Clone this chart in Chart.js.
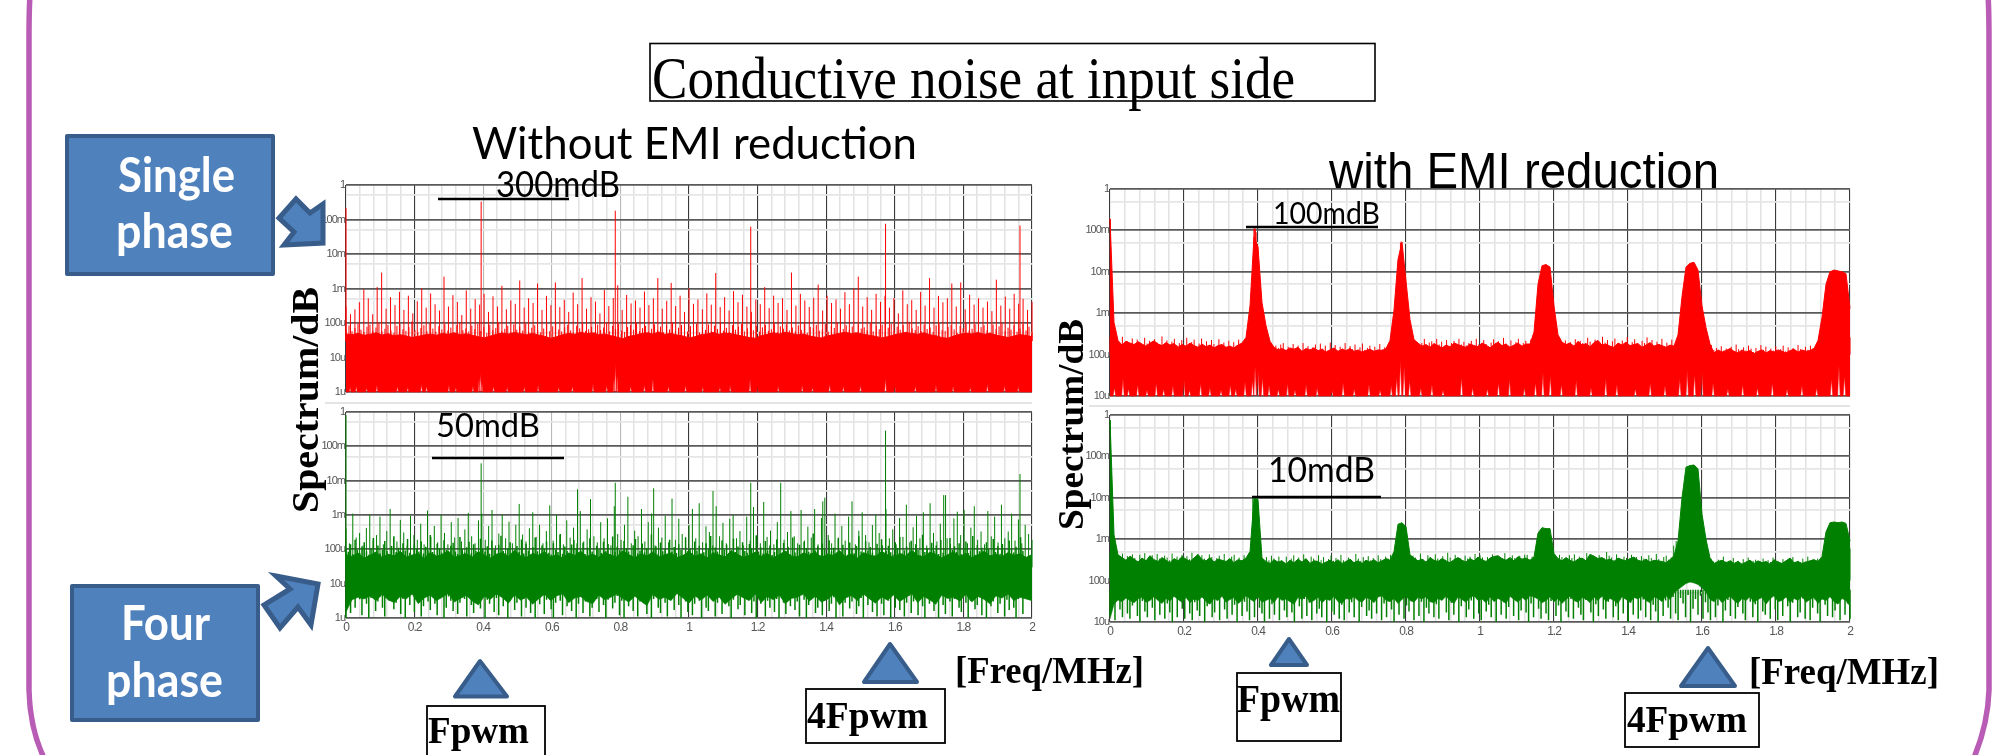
<!DOCTYPE html>
<html><head><meta charset="utf-8">
<script src="https://cdn.jsdelivr.net/npm/chart.js@4"></script>
<style>
html,body{margin:0;padding:0;background:#fff;width:2003px;height:755px;overflow:hidden}
#stage{position:relative;width:2003px;height:755px;background:#fff;filter:blur(.55px)}
canvas{position:absolute}
svg{position:absolute;left:0;top:0}
.ser{font-family:"Liberation Serif",serif;fill:#000}
.serb{font-family:"Liberation Serif",serif;font-weight:700;fill:#000}
.cal{font-family:Lato,sans-serif;fill:#000}
.wht{font-family:Lato,sans-serif;font-weight:700;fill:#fff}
.ari{font-family:"Liberation Sans",sans-serif;fill:#000}
</style></head><body>
<div id="stage">
<canvas id="lt"></canvas><canvas id="lb"></canvas><canvas id="rt"></canvas><canvas id="rb"></canvas>
<svg width="2003" height="755" viewBox="0 0 2003 755">
<path d="M30,-5 Q29,10 29,40 V690 Q30,730 45,760" fill="none" stroke="#b85cb5" stroke-width="5.5"/>
<path d="M1988,-5 Q1989,10 1989,40 V690 Q1988,725 1973,760" fill="none" stroke="#b85cb5" stroke-width="5.5"/>
<rect x="650" y="43.5" width="725" height="57.5" fill="none" stroke="#000" stroke-width="1.6"/>
<text class="ser" x="652" y="98" font-size="59" textLength="643" lengthAdjust="spacingAndGlyphs">Conductive noise at input side</text>
<text class="cal" x="472" y="159" font-size="45" textLength="445" lengthAdjust="spacingAndGlyphs">Without EMI reduction</text>
<text class="ari" x="1329" y="188" font-size="50" textLength="390" lengthAdjust="spacingAndGlyphs">with EMI reduction</text>
<line x1="325" x2="1032" y1="403" y2="403" stroke="#e4e4e4" stroke-width="2"/>
<line x1="1089" x2="1850" y1="406" y2="406" stroke="#e4e4e4" stroke-width="2"/>
<line x1="438" x2="569" y1="199" y2="199" stroke="#000" stroke-width="2.6"/>
<text class="cal" x="496" y="197" font-size="36" textLength="124" lengthAdjust="spacingAndGlyphs">300mdB</text>
<line x1="432" x2="564" y1="458" y2="458" stroke="#000" stroke-width="2.6"/>
<text class="cal" x="436" y="437" font-size="33" textLength="104" lengthAdjust="spacingAndGlyphs">50mdB</text>
<line x1="1246" x2="1378" y1="227" y2="227" stroke="#000" stroke-width="2.6"/>
<text class="cal" x="1273" y="224" font-size="31" textLength="107" lengthAdjust="spacingAndGlyphs">100mdB</text>
<line x1="1252" x2="1381" y1="497" y2="497" stroke="#000" stroke-width="2.6"/>
<text class="cal" x="1268" y="482" font-size="34" textLength="107" lengthAdjust="spacingAndGlyphs">10mdB</text>
<text class="serb" transform="translate(318,513) rotate(-90)" font-size="38" textLength="226" lengthAdjust="spacingAndGlyphs">Spectrum/dB</text>
<text class="serb" transform="translate(1083,530) rotate(-90)" font-size="36" textLength="211" lengthAdjust="spacingAndGlyphs">Spectrum/dB</text>
<g fill="#4f81bd" stroke="#385d8a" stroke-width="4" stroke-linejoin="round">
<rect x="67" y="136" width="206" height="138"/>
<rect x="72" y="586" width="186" height="134"/>
<polygon points="296,199 279,218 294,232 284,245 323,243 323,204 310,213" stroke-linejoin="miter" stroke-width="5"/>
<polygon points="276,576 318,584 311,625 298,607 280,628 264,605 290,589" stroke-linejoin="miter" stroke-width="5"/>
<polygon points="480,661 455,696.5 507,696.5"/>
<polygon points="890,644 864,682 917,682"/>
<polygon points="1289,639 1271,665 1307,665"/>
<polygon points="1708,648 1681,686 1735,686"/>
</g>
<text class="wht" x="118" y="192" font-size="47" textLength="117" lengthAdjust="spacingAndGlyphs">Single</text>
<text class="wht" x="116" y="248" font-size="47" textLength="117" lengthAdjust="spacingAndGlyphs">phase</text>
<text class="wht" x="121" y="640" font-size="47" textLength="89" lengthAdjust="spacingAndGlyphs">Four</text>
<text class="wht" x="106" y="697" font-size="47" textLength="117" lengthAdjust="spacingAndGlyphs">phase</text>
<g fill="#fff" stroke="#000" stroke-width="1.8">
<rect x="427" y="706" width="118" height="60"/>
<rect x="806" y="689" width="139" height="54"/>
<rect x="1237" y="673" width="104" height="68"/>
<rect x="1625" y="693" width="134" height="54"/>
</g>
<text class="serb" x="428" y="743" font-size="37" textLength="101" lengthAdjust="spacingAndGlyphs">Fpwm</text>
<text class="serb" x="807" y="728" font-size="37" textLength="121" lengthAdjust="spacingAndGlyphs">4Fpwm</text>
<text class="serb" x="1237" y="712" font-size="39" textLength="103" lengthAdjust="spacingAndGlyphs">Fpwm</text>
<text class="serb" x="1627" y="732" font-size="37" textLength="120" lengthAdjust="spacingAndGlyphs">4Fpwm</text>
<text class="serb" x="955" y="683" font-size="37" textLength="189" lengthAdjust="spacingAndGlyphs">[Freq/MHz]</text>
<text class="serb" x="1749" y="684" font-size="37" textLength="190" lengthAdjust="spacingAndGlyphs">[Freq/MHz]</text>
</svg>
</div>
<script>
// ---- axes (spectrum values are in micro-units; 1 = 1u, 1e6 = 1) ----
const freqTicks = [0,.04,.08,.12,.16,.2,.24,.28,.32,.36,.4,.44,.48,.52,.56,.6,.64,.68,.72,.76,.8,.84,.88,.92,.96,1,1.04,1.08,1.12,1.16,1.2,1.24,1.28,1.32,1.36,1.4,1.44,1.48,1.52,1.56,1.6,1.64,1.68,1.72,1.76,1.8,1.84,1.88,1.92,1.96,2];
const freqLabels = {0:'0',0.2:'0.2',0.4:'0.4',0.6:'0.6',0.8:'0.8',1:'1',1.2:'1.2',1.4:'1.4',1.6:'1.6',1.8:'1.8',2:'2'};
const levelTicks = [1,5,10,50,100,500,1000,5000,10000,50000,100000,500000,1000000];
const levelLabels = {1:'1u',10:'10u',100:'100u',1000:'1m',10000:'10m',100000:'100m',1000000:'1'};

// ---- top left: single phase, without reduction ----
const ltBandHigh = [48,46,50,44,47,52,45,49,43,46,42,38,41,45,48,44,50,47,52,46,49,44,40,37,42,47,51,48,53,49,46,50,45,41,36,40,46,50,47,54,49,52,46,48,43,39,35,41,44,49,52,48,55,47,50,45,42,37,40,46,48,53,47,51,49,45,41,38,36,43,47,52,48,54,50,46,48,42,39,37,42,46,50,54,49,52,47,44,41,37,40,45,49,53,50,47,52,46,43,38,36,42,47,51,48,53,47,50,45,41,38,42,46,44,40];
const ltFuzz = [62,85,58,71,96,64,55,78,90,60,74,103,57,68,88,61,52,82,94,66,59,76,110,63,54,72,86,58,98,69,56,81,65,92,60,74,53,87,101,62,70,57,84,66,95,59,77,51,89,63,72,105,58,68,83,55,91,64,79,60,97,56,73,86,62,54,69,93,58,80,107,65,57,75,88,61,52,84,70,96,59,66,78,53,90,63,74,102,57,82,67,94,60,55,76,87,64,99,58,71,83,56,68,92,62,79,54,86,65,104,59,73,88,61,57,81,69,95,53,76,63,90,58,84,67,100,60,72,55,87,64,78,93,57,70,106,62,83,56,75,89,59,66,97,54,80,68,91,61,74,57,85,63,98,52,77,70,88,60,65,94,56,82,72,103,58,67,86,63,79,54,92,69,75,61,99,57,84,66,89,53,73,95,60,78,64,87,56,108,70,62,81,58,91,67,74,55,85,96,63,59,77,88,65,52,83,71,100,60,68,92,57,76,86,62,54,90,66,80,97,58,73,64,87,56,69,93,61,78,55];
const ltNotchF = [.012,.03,.06,.09,.15,.18,.22,.235,.3,.32,.37,.388,.392,.396,.43,.47,.52,.56,.62,.66,.72,.76,.782,.786,.79,.83,.87,.895,.94,.99,1.04,1.09,1.12,1.178,1.2,1.26,1.33,1.36,1.41,1.45,1.5,1.573,1.6,1.66,1.72,1.77,1.82,1.87,1.92,1.96];
const ltNotchV = [1.4,1.5,1.3,1.6,1.5,1.4,1.7,1.5,1.6,1.4,1.5,2.5,3.5,2,1.5,1.4,1.5,1.6,1.4,1.5,1.7,1.6,3,7,3,1.5,1.6,2.4,1.5,1.6,1.5,1.4,1.6,2.4,1.5,1.5,1.6,1.4,1.7,1.5,1.6,2.6,1.6,1.5,1.6,1.5,1.4,1.7,1.6,1.5];
const ltSpikeHigh = [300,180,250,400,950,520,180,1100,2900,260,560,330,800,240,620,190,430,1000,280,720,350,230,2200,300,640,410,170,880,260,490,340,700,210,590,300,1200,250,450,360,1700,280,520,380,1400,240,610,330,1500,290,470,210,760,350,2000,260,560,420,190,900,310,530,1250,240,650,370,450,280,820,330,520,2000,260,440,1450,310,620,210,1000,360,480,250,720,340,2800,290,560,230,840,400,660,300,210,480,350,1100,270,620,380,520,240,2900,320,700,450,290,540,1300,230,620,380,480,260,780,350,1000,2200,300,560,240,700,410,620,280,530,190,880,350,460,240,800,320,2000,280,610,400,520,1400,300,1500,250,660,340,520,280,420,220,1800,320,580,260,700,360,500,240,410];
const ltPeakF = [0,.394,.785,1.18,1.573,1.965];
const ltPeakV = [215000,330000,180000,62000,75000,67000];

// ---- bottom left: four phase, without reduction ----
const lbBandHigh = [70,62,78,55,66,84,58,72,64,88,60,68,76,54,82,63,70,90,58,66,74,60,86,68,56,72,80,62,94,65,58,76,68,84,60,70,56,78,66,88,62,72,58,82,68,60,92,70,56,74,64,84,60,70,78,58,66,86,62,74,56,80,68,60,90,72,58,66,82,62,76,56,70,88,64,60,78,68,84,58,72,66,92,60,74,56,80,68,62,86,70,58,76,64,94,66,60,82,72,56,70,84,62,76,58,68,90,64,72,60,80,66,74,58,70];
const lbBandLow = [1.5,3.4,4,3.6,4.4,3.2,4.8,3.4,2.8,4.2,3.6,5,2.6,3.8,4.6,3.2,4,5.2,2.9,3.7,4.5,3.1,2.4,4.3,3.5,5,3.9,2.7,4.7,3.3,4.1,2.5,3.6,4.9,3.2,4.4,5.1,2.8,3.8,4.2,3,2.6,4.6,3.4,4,5,3.7,2.9,4.3,3.1,2.3,4.8,3.5,4,3.2,5.2,3.8,2.7,4.4,3.3,4.7,3,4.1,2.5,3.6,4.9,3.9,3.2,5,2.8,4.2,3.4,4.6,2.6,3.7,4,5.1,3.1,4.3,2.9,3.5,4.8,2.4,3.8,4.5,3.2,5,3.6,2.7,4.1,3.3,4.7,3,3.9,5.2,2.8,4.2,3.4,2.5,4.6,3.7,4,3.1,4.9,2.9,4.3,3.5,2.6,4.4,3.8,5,3.2,4,3.6,3.2];
const lbSpikeHigh = [400,150,1100,220,300,130,420,1000,180,260,900,140,340,1500,210,170,720,310,130,950,260,190,560,140,1350,230,480,160,1000,300,140,620,220,820,170,380,1150,240,150,700,1100,190,480,1400,130,290,1000,210,640,150,520,2100,270,170,410,1200,230,520,150,340,1900,180,1000,260,140,700,220,430,150,1300,170,380,2900,240,160,620,210,800,130,1800,280,190,520,3400,150,350,240,1500,170,620,1100,130,430,220,950,160,3000,190,780,280,140,520,1500,210,2200,160,470,320,130,1800,240,590,150,780,1000,210,340,130,900,180,1700,260,150,2400,230,350,140,620,8700,190,320,1300,240,150,1400,180,460,220,1500,140,820,3200,260,150,1100,220,480,180,900,2500,140,350,1200,260,160,510,1000,300,130,1500,210,380,140,820,230,2000,160,440,950,210,1200,130,2200,300,170,560,3800,210,140,800,1250,260,1400,150,430,1800,190,330,140,1300,240,900,160,2000,210,330,1100,180,740,150,520,280,190];
const lbFuzzHigh = [110,85,140,72,190,95,78,120,160,88,70,105,215,82,130,76,98,175,90,68,125,240,84,112,74,150,92,200,80,66,135,102,86,170,75,118,94,260,83,71,145,108,79,185,96,69,128,155,87,73,230,100,81,115,165,77,140,91,68,205,104,85,122,74,180,96,72,135,250,89,78,110,160,70,98,125,83,195,76,145,93,67,115,220,88,75,130,102,170,80,71,150,97,84,280,74,120,90,68,138,186,106,79,94,155,72,112,210,86,69,128,100,78,165,91,144,73,235,83,118,96,70,175,104,87,66,132,200,76,92,148,81,110,68,270,95,124,74,158,88,102,71,190,85,116,78,140,96,67,225,89,108,75,168,92,128,70,82,150,100,245,77,113,86,69,180,97,135,73,94,205,84,120,66,160,90,79,142,105,72,255,87,115,76,175,93,130,68,83,195,101,74,152,89,118,71,220,81,96,137,70,165,107,85,78,290,92,124,67,148,99,75,185,88,112,73,210,83,135,95,69,158,104,77,126,240,86,72,172,93,116,80,66,145,100,198,74,90,128,82,69,160,108,230,76,94,120,71,178,87,140,98,67,265,84,110,75,155,91,130,73,188,79,102,68,215,96,122,85,150,72,106,170,78,93,246,70,134,88,112,76,162,99,66,200,83,126,74,144,95,69,182,107,81,118,72,224,90,138,77,104,156];
const lbFuzzLow = [1,3,1.4,4,2,5,3.5,1.2,4.5,2.6,1,3.8,5,1.6,3,4.2,2,1.1,4,3.2,5,1.8,2.8,4.6,1.3,3.6,1,4.4,2.4,5,1.5,3.4,4,1.1,2.2,4.8,3,1.7,5,2.6,1.2,3.8,4.4,1,2,4.2,3.2,1.6,5,1.3,2.8,4,3.6,1.1,4.6,2.4,1.4,5,3,1.9,4.2,1,3.4,2.6,4.8,1.5,3.8,1.2,5,2.2,4,1,3.2,4.4,1.7,2.8,5,1.1,3.6,2,4.6,1.4,3,1,4.2,2.5,5,1.3,3.4,4,1.8,1,2.8,4.8,3.2,1.2,4.4,2.2,5,1.6,3.8,1,2.6,4.2,1.4,3,5,1.1,2,4,3.6,1.5,4.6,2.4,1,3.4,5,1.9,2.8,4.4,1.2,3.2,1,4.8,2.2,3.8,1.6,5,1.1,3,4.2,2.6,1.3,4,1,3.6,5,2,1.4,4.6,2.8,1.1,3.4,4.4,1.7,5,2.4,1,3.8,3,1.5,4.2,1.2,2.6,5,3.2,1,4,2,1.6,4.8,3.6,1.1,2.8,4.4,1.3,3,5,2.2,1,3.4,4.6,1.8,2.4,4,1.2,5,3.8,1.4,3,1,4.2,2.6,5,1.1,3.2,2,4.8,1.5,3.6,1,4.4,2.8,1.3,5,2.2,4,1.7,3,1.1,4.6,3.4,1,2.4,5,3.8,1.4,2,4.2,1.2,3.2,5,1.6,2.6,4,1,3.6,4.8,1.1,2.8,5,1.9,3,4.4,1.3,2.2,3.8,1,4.6,2.4,5,1.5,3.4,1.1,4,2.6,1.2,4.2,3.2,1,5,2,3.6,1.7,4.8,1.1,2.8,4.4,1.4,3,5,1.2,3.8,2.2,1,4,2.6,4.6,1.6,3.4,1,5,2.4,1.3,4.2,3,1.1,3.6,4.8,2,1.5,4.4,2.8,1,3.2,5,1.8,2.4,4,1.2,3.8,1,4.6,2.2,3,5,1.4,2.6,4.2,1.1,3.4,1.7,4.8,2,1,3.6,4.4,1.3];
const lbPeakF = [0,.394,.675,.785,.897,1.07,1.18,1.39,1.573,1.748,1.965];
const lbPeakV = [800000,32000,5600,8700,6000,5000,8700,2500,286000,3800,15600];

// ---- top right: single phase, with reduction ----
const rtBandHigh = [190000,600,220,
170,210,190,175,205,180,160,190,215,180,165,195,170,185,150,175,160,190,165,150,180,155,170,145,165,175,150,160,145,170,190,
260,1500,70000,40000,1800,500,210,
150,130,140,125,145,135,150,120,140,130,145,125,135,115,130,145,120,135,125,140,120,130,115,125,135,120,130,125,140,
220,1200,20000,52000,6000,700,230,
190,160,175,150,185,165,145,170,155,190,175,160,150,180,165,155,190,170,145,175,200,165,180,150,170,190,160,180,
180,350,5000,14000,15000,13000,1500,300,200,
175,190,160,210,170,185,155,195,220,170,180,160,150,190,170,200,165,175,185,150,170,195,160,175,165,150,170,160,
300,2500,13000,16000,17000,11000,1500,450,180,
110,130,115,125,140,120,110,130,115,125,105,120,130,110,125,115,130,120,110,125,135,115,130,120,125,
140,220,800,5000,10000,11000,10500,10000,9000,1300];
const rtFuzz = [260,240,180,225,150,270,190,210,160,245,175,230,200,155,255,185,215,165,235,195,150,275,180,220,160,205,240,170,190,225,
150,255,175,200,230,160,185,245,165,210,140,225,180,155,235,170,195,150,215,140,200,165,230,145,180,210,150,190,170,140,
170,130,185,125,150,190,135,165,145,175,190,130,155,120,180,140,165,125,190,135,160,120,150,175,125,185,140,165,125,195,
130,170,115,155,140,190,125,160,135,175,120,150,185,130,145,165,115,155,125,180,135,150,120,170,140,125,160,115,145,175,
170,205,150,225,180,145,190,240,165,195,210,150,240,175,205,155,225,145,190,215,160,240,175,205,165,190,215,160,240,175,
145,225,180,160,195,235,150,210,170,255,185,150,220,165,200,240,155,190,215,145,230,175,160,205,185,250,150,195,225,165,
210,165,240,180,220,180,200,155,235,170,215,190,150,255,205,165,230,180,150,270,195,225,160,210,245,170,150,220,185,265,
155,200,235,175,150,215,190,260,165,225,145,205,180,240,160,195,150,230,170,210,300,260,280,240,310,200,150,115,135,165,
125,150,110,170,130,145,115,160,125,140,105,155,120,175,135,110,150,125,165,140,115,145,120,170,130,155,110,140,125,160,
115,135,165,120,150,105,145,125,170,135,110,155,130,165,140,115,150,130,160,300,280,320,300,260,280,240,260,300,280,260];
const rtNotchF = [.012,.035,.05,.075,.10,.125,.145,.17,.2,.215,.245,.27,.3,.325,.34,.365,.385,.392,.4,.412,.43,.455,.48,.5,.53,.56,.6,.63,.66,.7,.73,.76,.775,.785,.795,.81,.84,.87,.9,.95,.98,1.02,1.05,1.08,1.12,1.15,1.17,1.19,1.22,1.26,1.3,1.34,1.37,1.42,1.46,1.5,1.54,1.56,1.58,1.6,1.63,1.67,1.71,1.75,1.79,1.83,1.87,1.91,1.95,1.97,1.985];
const rtNotchV = [16,26,15,19,14,21,15,18,24,14,20,16,14,19,15,22,24,50,40,28,18,15,20,14,19,16,14,21,15,19,14,18,28,72,52,24,16,19,14,28,16,15,21,26,16,21,36,31,19,24,16,26,19,15,21,18,26,42,34,36,21,15,19,16,21,15,18,16,26,56,31];
const rtPeakF = [.001,.389,.391,.393,.395,.785,.787,.789];
const rtPeakV = [190000,110000,113000,110000,90000,50000,54000,40000];

// ---- bottom right: four phase, with reduction ----
const rbBandHigh = [750000,1300,420,
360,310,390,330,280,350,300,400,320,290,360,310,270,340,300,380,330,290,350,430,320,300,360,280,330,310,290,340,270,320,300,350,
500,9500,9000,350,
290,260,320,280,300,250,310,270,330,280,340,260,300,290,250,280,310,270,320,260,290,330,270,300,260,310,280,320,270,300,340,310,
500,2300,2500,2000,420,
350,300,330,280,360,310,290,340,300,270,320,360,310,280,340,300,370,320,290,350,380,400,340,310,360,300,380,330,350,310,370,
1400,1900,1800,1800,450,
340,300,360,310,280,330,350,300,430,390,340,360,310,330,290,350,320,300,340,370,310,290,330,280,310,300,290,270,320,
400,900,10000,55000,60000,62000,50000,4000,1000,350,
260,290,310,270,300,260,290,250,280,310,260,300,270,290,250,320,280,260,300,350,270,290,260,280,300,320,290,
380,1500,2500,2600,2500,2600,2400,900];
const rbBandLow = [12,27,34,31,38,33,29,36,40,30,
33,41,33,28,37,32,42,35,30,39,
29,36,33,41,31,27,37,33,42,30,
35,39,28,33,43,36,31,40,30,33,
37,29,41,33,36,31,27,39,35,42,
30,33,40,29,36,33,42,31,28,37,
35,41,33,30,39,36,29,40,43,33,
31,37,28,35,42,33,30,39,36,41,
31,29,37,33,42,33,28,40,35,30,
39,43,33,36,29,41,31,37,33,28,
42,35,30,39,33,43,40,36,29,33,
41,31,37,28,35,42,33,30,39,36,
29,40,33,43,31,37,33,28,41,35,
30,39,36,42,33,29,40,37,31,43,
35,50,60,72,85,92,88,80,66,52,
35,31,39,29,36,42,33,28,37,33,
41,30,35,39,27,36,43,31,33,40,
29,37,33,42,30,35,39,28,36,33,
41,31,27,37,33,24];
const rbDownLow = [14,30,11,42,20,13,38,16,12,25,44,14,10,32,18,13,40,22,11,36,15,45,12,28,17,10,41,13,34,21,12,47,16,11,30,19,14,39,10,24,43,13,17,33,11,46,20,12,37,15,26,10,42,14,31,18,11,35,13,44,22,16,10,40,12,27,15,38,11,48,19,13,32,17,10,43,24,12,36,14,29,11,41,16,21,13,34,10,46,18,15,39,12,26,11,44,17,30,13,37,10,23,42,14,19,12,33,16,45,11,28,13,40,20,10,35,15,47,12,25,18,38,11,43,14,31,10,22,16,41,13,27,12,36,45,17,11,29,15,39,10,24,44,13,20,33,12,47,16,11,40,18,26,13,37,10,42,15,30,12,23,46,14,35,11,19,41,17,10,28,13,44,21,12,38,16,11,32,45,14,25,10,40,18,13,36,12,48,22,15,11,34,43,17,10,27,14,39,20,12,31,46,13,24,11,41,16,37,10,29,15,44,12,19,35,13,42,11,26,18,10,47,14,33,22,12,40,16,11,38,28,13,45,10,21,36,15,43,12,30,17,11,48,13,25,41,10,19,34,14,46,12,23,38,16,11,44,31,13,27,10,42,18,15,36,12,47,20,11,33,14,40,24,10,29,45,13,17,37,12,43,11,22,35,16,10,41,26,14,46,13,19,32,11,39,15,28,12];
const rbFuzz = [470,380,300,410,340,450,310,390,280,430,350,300,420,330,460,290,370,410,310,440,340,280,400,360,310,450,300,380,340,420,
290,390,330,470,310,360,280,410,340,300,430,370,290,350,400,310,440,280,330,380,420,300,360,290,410,340,460,310,380,300,
350,420,290,370,310,400,340,290,380,310,280,380,280,340,410,300,360,270,430,320,290,380,340,260,410,310,370,280,330,400,
300,350,270,420,310,290,360,320,280,440,340,300,370,260,390,310,350,280,410,330,290,380,340,420,310,360,350,420,310,380,
340,290,400,360,310,450,330,280,410,370,300,430,340,290,390,320,470,360,300,420,310,350,280,400,340,380,300,440,330,410,
360,290,370,320,430,310,390,280,350,460,330,300,410,350,290,400,330,420,420,310,380,340,290,400,360,310,440,330,390,350,
300,420,370,320,290,410,350,430,310,380,340,300,460,330,400,370,290,410,320,350,490,400,360,310,430,340,300,380,350,290,
420,320,370,300,390,340,280,410,350,310,440,330,290,370,400,320,360,700,900,800,1000,1100,900,800,1000,700,600,450,330,280,
310,260,340,290,250,320,270,380,290,260,310,350,270,300,250,330,280,360,260,300,320,270,290,340,250,310,280,360,270,300,
260,330,290,250,310,370,280,300,260,340,290,380,270,320,300,340,270,310,290,1800,2000,1800,2000,1800,2000,1600,1600,1000,600];
const rbPeakF = [.001,.003,.386,.39,.394,.398];
const rbPeakV = [750000,50000,10000,10000,10000,10000];

// ---- turning the lists into line datasets ----
const onGrid = arr => arr.map((y,i)=>({x:i/(arr.length-1)*2,y}));
const notched = (fs,vs,floor,d)=>{const o=[{x:0,y:floor}];fs.forEach((f,i)=>{o.push({x:f-d,y:floor},{x:f,y:vs[i]},{x:f+d,y:floor});});o.push({x:2,y:floor});return o;};
const sticks = (fs,lows,highs)=>{const o=[];fs.forEach((f,i)=>{o.push({x:f,y:lows[i]},{x:f,y:highs[i]},{x:f,y:null});});return o;};
const gridF = arr => arr.map((_,i)=>i/(arr.length-1)*2);
const same = (arr,v)=>arr.map(()=>v);
const tightLabels={id:'tightLabels',beforeDraw(ch){ch.ctx.letterSpacing='-1px';}};

function panel(id,box,color,bandHigh,bandLow,stickSets,showX,floor){
  const padL=32,padT=8,padR=8,xh=24;
  const c=document.getElementById(id);
  c.width=box.w+padL+padR;c.height=box.h+padT+xh;
  c.style.left=(box.x-padL)+'px';c.style.top=(box.y-padT)+'px';
  c.style.width=c.width+'px';c.style.height=c.height+'px';
  const ds=[
    {data:bandHigh,borderColor:color,borderWidth:1,backgroundColor:color,fill:'+1',pointRadius:0,tension:0,clip:2},
    {data:bandLow,borderColor:color,borderWidth:.6,pointRadius:0,tension:0,fill:false,clip:2}
  ];
  stickSets.forEach(s=>ds.push({data:s.d||s,borderColor:color,borderWidth:s.w||1,pointRadius:0,tension:0,fill:false,spanGaps:false,clip:2}));
  new Chart(c,{type:'line',plugins:[tightLabels],data:{datasets:ds},options:{
    responsive:false,animation:false,normalized:false,
    layout:{padding:{top:padT,right:padR,left:0,bottom:0}},
    plugins:{legend:{display:false},tooltip:{enabled:false},title:{display:false}},
    events:[],
    scales:{
      x:{type:'linear',min:0,max:2,
        afterBuildTicks(s){s.ticks=freqTicks.map(value=>({value}));},
        afterFit(s){s.height=xh;},
        border:{display:false},
        grid:{drawTicks:false,
          color(t){const v=Math.round(t.tick.value*100);if(v%20)return '#e2e2e2';return (id[0]==='l'&&(v===40||v===60||v===80))?'#b8b8b8':'#3a3a3a';},
          lineWidth(t){return Math.round(t.tick.value*100)%20?1.5:1.1;}},
        ticks:{display:showX,autoSkip:false,maxRotation:0,padding:2,color:'#555',
          font:{family:'"Liberation Sans"',size:12},
          callback(v){const k=Math.round(v*10)/10;return Math.abs(k-v)<1e-6?freqLabels[k]:'';}}
      },
      y:{type:'logarithmic',min:floor,max:1000000,
        afterBuildTicks(s){s.ticks=levelTicks.filter(v=>v>=floor).map(value=>({value}));},
        afterFit(s){s.width=padL;},
        border:{display:false},
        grid:{drawTicks:false,
          color(t){return levelLabels[t.tick.value]?'#5a5a5a':'#e6e6e6';},
          lineWidth(){return 1.8;}},
        ticks:{autoSkip:false,padding:1,color:'#555',
          font:{family:'"Liberation Sans"',size:11},
          callback(v){return levelLabels[v]||'';}}
      }
    }
  }});
}

panel('lt',{x:346,y:185,w:686,h:207},'#ff0000',
  onGrid(ltBandHigh),notched(ltNotchF,ltNotchV,1,.0028),
  [sticks(gridF(ltFuzz),same(ltFuzz,30),ltFuzz),sticks(gridF(ltSpikeHigh),same(ltSpikeHigh,30),ltSpikeHigh),sticks(ltPeakF,same(ltPeakF,30),ltPeakV)],false,1);
panel('lb',{x:346,y:412,w:686,h:206},'#008000',
  onGrid(lbBandHigh),onGrid(lbBandLow),
  [{d:sticks(gridF(lbFuzzHigh),lbFuzzLow,lbFuzzHigh),w:1.5},sticks(gridF(lbSpikeHigh),same(lbSpikeHigh,30),lbSpikeHigh),sticks(lbPeakF,same(lbPeakF,30),lbPeakV)],true,1);
panel('rt',{x:1110,y:189,w:740,h:207},'#ff0000',
  onGrid(rtBandHigh),notched(rtNotchF,rtNotchV,10,.0036),
  [sticks(gridF(rtFuzz),same(rtFuzz,100),rtFuzz),sticks(rtPeakF,same(rtPeakF,1000),rtPeakV)],false,10);
panel('rb',{x:1110,y:415,w:740,h:207},'#008000',
  onGrid(rbBandHigh),onGrid(rbBandLow),
  [{d:sticks(gridF(rbDownLow),rbDownLow,same(rbDownLow,60)),w:1.5},sticks(gridF(rbFuzz),same(rbFuzz,100),rbFuzz),sticks(rbPeakF,same(rbPeakF,1000),rbPeakV)],true,10);
</script>
</body></html>
